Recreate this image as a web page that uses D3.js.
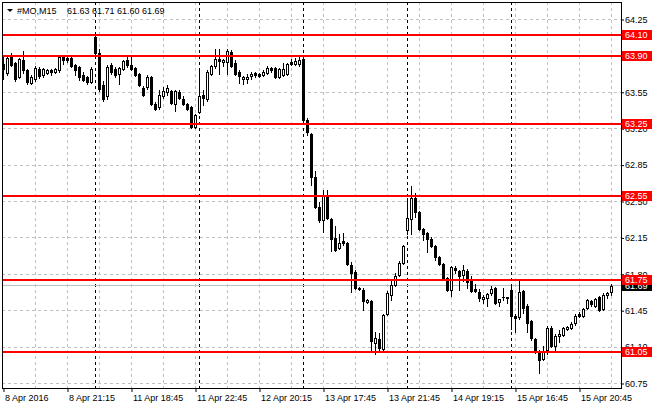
<!DOCTYPE html>
<html><head><meta charset="utf-8">
<script src="https://cdn.jsdelivr.net/npm/d3@7"></script>
<style>
html,body{margin:0;padding:0;background:#fff;}
svg{display:block;}
text{font-family:"Liberation Sans",Arial,sans-serif;font-size:9px;}
</style></head><body>
<svg id="c" width="660" height="410"></svg>
<script>
// ---- data (15-minute bars, #MO) ----
const opens = [
63.82,63.74,63.91,63.83,63.70,63.86,63.76,63.64,63.68,63.77,63.72,63.74,63.76,63.75,63.76,63.89,63.88,63.88,63.81,63.79,63.72,63.70,63.65,
64.08,63.93,63.62,63.51,63.81,63.77,63.73,63.77,63.86,63.81,63.78,63.73,63.59,63.60,63.70,63.44,63.41,63.51,63.55,63.56,63.44,63.55,63.49,63.44,63.41,63.22,63.36,
63.52,63.49,63.73,63.80,63.87,63.84,63.84,63.94,63.83,63.75,63.68,63.68,63.71,63.74,63.73,63.72,63.74,63.78,63.78,63.70,63.72,63.73,63.84,63.82,63.82,63.87,
63.28,63.15,62.74,62.45,62.32,62.55,62.33,62.15,62.05,62.12,62.10,61.89,61.82,61.67,61.65,61.53,61.54,61.14,61.18,61.08,61.42,61.60,61.70,61.79,61.91,
62.23,62.33,62.53,62.40,62.24,62.20,62.14,62.07,61.97,61.90,61.76,61.65,61.86,61.83,61.79,61.83,61.75,61.66,61.63,61.56,61.57,61.62,61.67,61.53,61.58,61.58,
61.65,61.40,61.39,61.64,61.50,61.35,61.18,61.04,60.99,61.07,61.28,61.11,61.21,61.22,61.27,61.28,61.33,61.42,61.40,61.48,61.54,61.50,61.58,61.47,61.60,61.63];
const highs = [
63.89,63.90,63.93,63.84,63.88,63.95,63.77,63.72,63.80,63.79,63.78,63.77,63.77,63.78,63.91,63.91,63.90,63.89,63.82,63.80,63.75,63.71,63.79,
64.09,63.97,63.66,63.81,63.83,63.79,63.79,63.86,63.89,63.89,63.79,63.74,63.61,63.72,63.71,63.46,63.57,63.60,63.62,63.57,63.57,63.57,63.51,63.45,63.42,63.34,63.78,
63.57,63.76,63.81,63.97,63.97,63.87,63.97,63.96,63.86,63.76,63.71,63.73,63.75,63.75,63.74,63.76,63.80,63.79,63.79,63.78,63.83,63.83,63.87,63.88,63.89,63.90,
63.30,63.16,62.79,62.50,62.61,62.61,62.34,62.26,62.19,62.20,62.11,61.92,61.84,61.68,61.67,61.56,61.55,61.25,61.24,61.42,61.64,61.74,61.81,61.93,62.08,
62.53,62.65,62.58,62.41,62.25,62.21,62.16,62.08,61.98,61.91,61.77,61.88,61.88,61.84,61.89,61.85,61.78,61.71,61.66,61.60,61.62,61.69,61.68,61.56,61.67,61.58,
61.71,61.42,61.75,61.65,61.51,61.36,61.19,61.07,61.11,61.30,61.30,61.23,61.26,61.29,61.30,61.34,61.42,61.44,61.48,61.56,61.55,61.57,61.59,61.62,61.63,61.71];
const lows = [
63.68,63.72,63.80,63.66,63.69,63.74,63.63,63.63,63.66,63.69,63.70,63.73,63.72,63.74,63.75,63.82,63.84,63.79,63.72,63.67,63.66,63.63,63.64,
63.92,63.56,63.47,63.49,63.73,63.70,63.63,63.76,63.79,63.76,63.71,63.61,63.51,63.58,63.43,63.38,63.39,63.50,63.52,63.44,63.37,63.49,63.43,63.38,63.21,63.21,63.35,
63.43,63.47,63.72,63.78,63.73,63.80,63.73,63.79,63.72,63.64,63.63,63.64,63.68,63.70,63.70,63.71,63.73,63.75,63.69,63.69,63.71,63.72,63.81,63.81,63.80,63.27,
63.14,62.66,62.44,62.30,62.21,62.33,62.02,62.02,62.04,62.08,61.89,61.63,61.66,61.65,61.46,61.52,61.07,61.03,61.05,61.07,61.41,61.55,61.69,61.78,61.90,
62.19,62.19,62.35,62.23,62.13,62.01,62.06,61.94,61.89,61.75,61.64,61.59,61.81,61.65,61.74,61.67,61.63,61.63,61.54,61.52,61.50,61.60,61.51,61.50,61.55,61.52,
61.27,61.25,61.37,61.43,61.25,61.17,61.04,60.85,60.98,61.03,61.10,61.06,61.15,61.21,61.26,61.27,61.31,61.39,61.39,61.47,61.50,61.49,61.45,61.46,61.57,61.60];
const closes = [
63.77,63.88,63.81,63.68,63.87,63.76,63.65,63.70,63.78,63.71,63.77,63.76,63.75,63.77,63.89,63.86,63.86,63.80,63.76,63.70,63.67,63.65,63.77,
63.93,63.58,63.49,63.79,63.75,63.72,63.78,63.85,63.81,63.77,63.72,63.62,63.52,63.70,63.44,63.39,63.52,63.56,63.59,63.45,63.56,63.50,63.44,63.39,63.22,63.33,63.51,
63.50,63.75,63.80,63.87,63.85,63.86,63.95,63.80,63.73,63.71,63.70,63.70,63.73,63.72,63.71,63.75,63.78,63.76,63.70,63.77,63.77,63.82,63.82,63.85,63.86,63.28,
63.17,62.74,62.45,62.32,62.55,62.34,62.14,62.03,62.10,62.10,61.90,61.81,61.67,61.66,61.54,61.55,61.16,61.19,61.09,61.41,61.62,61.70,61.78,61.91,62.07,
62.34,62.53,62.40,62.24,62.19,62.14,62.07,61.97,61.90,61.76,61.65,61.87,61.84,61.78,61.84,61.73,61.64,61.64,61.57,61.58,61.61,61.66,61.52,61.56,61.58,61.57,
61.40,61.38,61.63,61.48,61.33,61.19,61.06,60.98,61.06,61.28,61.11,61.21,61.23,61.28,61.29,61.32,61.40,61.40,61.47,61.55,61.51,61.56,61.46,61.60,61.62,61.69];

const timeLabels = ["8 Apr 2016","8 Apr 21:15","11 Apr 18:45","11 Apr 22:45","12 Apr 20:15",
                    "13 Apr 17:45","13 Apr 21:45","14 Apr 19:15","15 Apr 16:45","15 Apr 20:45"];
const timeLabelBars = [0,16,32,48,64,80,96,112,128,144];
const daySeparatorBars = [23,49,75,101,127];
const priceTicks = [64.25,63.90,63.55,63.20,62.85,62.50,62.15,61.80,61.45,61.10,60.75];
const levels = [64.10,63.90,63.25,62.55,61.75,61.05];
const symbolName = "#MO,M15";
const lastBid = 61.69;

// ---- layout ----
const L = 2, R = 621, T = 2, B = 388;
const n = opens.length;
const svg = d3.select("#c");
const x = d3.scaleLinear().domain([0, n - 1]).range([3.5, 3.5 + 4 * (n - 1)]);
const y = d3.scaleLinear().domain([60.75, 64.25]).range([383.5, 19.5]);
const row = v => Math.floor(y(v)) + 0.5;
const gridColor = "#c0c0c0";

const g = svg.append("g");

// horizontal grid
g.selectAll("line.hg").data(priceTicks).join("line")
  .attr("x1", L).attr("x2", R).attr("y1", d => row(d)).attr("y2", d => row(d))
  .attr("stroke", gridColor).attr("stroke-dasharray", "3,3");

// vertical grid every 8 bars
g.selectAll("line.vg").data(d3.range(8, n, 8)).join("line")
  .attr("x1", d => x(d)).attr("x2", d => x(d)).attr("y1", T).attr("y2", B)
  .attr("stroke", gridColor).attr("stroke-dasharray", "3,3");

// day separators
g.selectAll("line.sep").data(daySeparatorBars).join("line")
  .attr("x1", d => x(d)).attr("x2", d => x(d)).attr("y1", T).attr("y2", B)
  .attr("stroke", "#000").attr("stroke-dasharray", "3,3");

// bid line
g.append("line").attr("x1", L).attr("x2", R)
  .attr("y1", row(lastBid)).attr("y2", row(lastBid)).attr("stroke", "#c0c0c0");

// candles
const bars = d3.range(n);
const cg = svg.append("g");
cg.selectAll("line.wick").data(bars).join("line")
  .attr("x1", i => x(i)).attr("x2", i => x(i))
  .attr("y1", i => Math.round(y(highs[i]))).attr("y2", i => Math.round(y(lows[i])) + 1)
  .attr("stroke", "#000");
cg.selectAll("rect.body").data(bars).join("rect")
  .each(function(i) {
    const o = opens[i], c = closes[i];
    const top = Math.round(y(Math.max(o, c))), bot = Math.round(y(Math.min(o, c)));
    const el = d3.select(this);
    if (c < o || bot - top < 1) {
      el.attr("x", x(i) - 1.5).attr("width", 3).attr("y", top).attr("height", Math.max(1, bot - top + 1))
        .attr("fill", "#000");
    } else {
      el.attr("x", x(i) - 1).attr("width", 2).attr("y", top + 0.5).attr("height", bot - top)
        .attr("fill", "#fff").attr("stroke", "#000");
    }
  });

// support / resistance levels
svg.selectAll("rect.lvl").data(levels).join("rect")
  .attr("x", L).attr("width", R - L).attr("y", d => Math.round(y(d)) - 1).attr("height", 2)
  .attr("fill", "#ff0000");

// frame
svg.append("rect").attr("x", L + 0.5).attr("y", T + 0.5).attr("width", R - L).attr("height", B - T)
  .attr("fill", "none").attr("stroke", "#000");

// price axis
const ya = svg.append("g").attr("transform", `translate(${R},0)`)
  .call(d3.axisRight(y).tickValues(priceTicks).tickFormat(d3.format(".2f")).tickSize(3).tickPadding(1));
ya.select(".domain").remove();
ya.selectAll("text").attr("font-family", "Liberation Sans, Arial, sans-serif").attr("font-size", 9).attr("fill", "#000");
ya.selectAll("line").attr("stroke", "#000");

// time axis
const xa = svg.append("g").attr("transform", `translate(0,${B})`)
  .call(d3.axisBottom(x).tickValues(timeLabelBars).tickFormat((d, i) => timeLabels[i]).tickSize(4).tickPadding(3));
xa.select(".domain").remove();
xa.selectAll("text").attr("text-anchor", "start").attr("dx", 1)
  .attr("font-family", "Liberation Sans, Arial, sans-serif").attr("font-size", 9).attr("fill", "#000");
xa.selectAll("line").attr("stroke", "#000");

// bid price label (black) then level labels (red) on top
function priceLabel(v, fill) {
  const cy = Math.round(y(v));
  const gl = svg.append("g");
  gl.append("rect").attr("x", R + 1).attr("y", cy - 5).attr("width", 30).attr("height", 10).attr("fill", fill);
  gl.append("text").attr("x", R + 4).attr("y", cy).attr("dy", "0.34em").attr("fill", "#fff").text(d3.format(".2f")(v));
}
priceLabel(lastBid, "#000");
levels.forEach(v => priceLabel(v, "#ff0000"));

// header
svg.append("path").attr("d", "M7,9 L13,9 L10,12 Z").attr("fill", "#000");
svg.append("text").attr("x", 17).attr("y", 13.5).attr("font-size", 10).text(symbolName);
const last = n - 1;
svg.append("text").attr("x", 67).attr("y", 13.5)
  .text([opens[last], highs[last], lows[last], closes[last]].map(d3.format(".2f")).join(" "));
</script>
</body></html>
